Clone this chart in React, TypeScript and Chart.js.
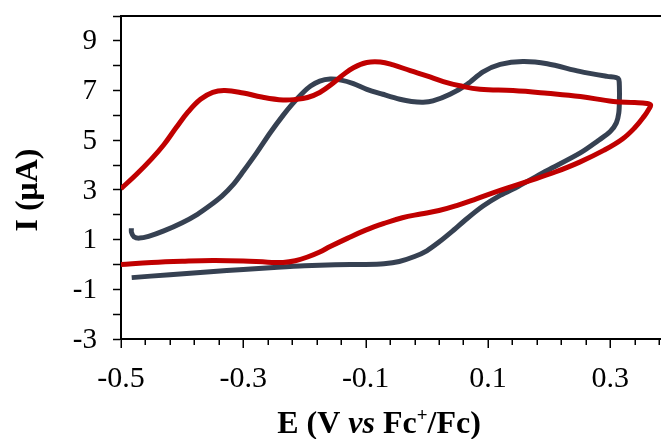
import React, { useEffect, useRef } from "react";
import { Chart, registerables } from "chart.js";
Chart.register(...registerables);

// Red voltammogram (forward lower branch, then return upper branch)
const redE = [
  -0.5, -0.45, -0.4, -0.35, -0.3, -0.26, -0.235, -0.215, -0.195, -0.175, -0.158, -0.13, -0.1, -0.07, -0.04, -0.01,
  0.02, 0.05, 0.08, 0.12, 0.17, 0.21, 0.25, 0.29, 0.32, 0.34, 0.355, 0.363, 0.366,
  0.36, 0.34, 0.305, 0.251, 0.197, 0.141, 0.087, 0.054, 0.027, 0.0, -0.027, -0.055, -0.076, -0.098, -0.12, -0.137,
  -0.153, -0.175, -0.195, -0.215, -0.235, -0.27, -0.3, -0.33, -0.35, -0.37, -0.39, -0.41, -0.43, -0.45, -0.475, -0.5,
];
const redI = [
  0.0, 0.08, 0.13, 0.16, 0.14, 0.09, 0.08, 0.15, 0.3, 0.5, 0.72, 1.05, 1.38, 1.65, 1.88, 2.03,
  2.17, 2.38, 2.63, 2.98, 3.38, 3.72, 4.12, 4.6, 5.05, 5.5, 5.95, 6.25, 6.42,
  6.48, 6.52, 6.56, 6.76, 6.89, 7.0, 7.05, 7.19, 7.36, 7.59, 7.8, 8.03, 8.15, 8.13, 7.92, 7.63,
  7.3, 6.92, 6.72, 6.64, 6.62, 6.74, 6.9, 7.0, 6.93, 6.65, 6.15, 5.5, 4.82, 4.25, 3.62, 3.05,
];

// Dark voltammogram
const darkE = [
  -0.4825, -0.42, -0.354, -0.3, -0.25, -0.2, -0.15, -0.1, -0.07, -0.045, -0.02, 0.0, 0.02, 0.04, 0.066, 0.092,
  0.12, 0.15, 0.197, 0.251, 0.28, 0.3, 0.31, 0.314, 0.315, 0.315, 0.314, 0.31, 0.295, 0.25, 0.197, 0.157,
  0.12, 0.092, 0.066, 0.038, 0.01, -0.006, -0.025, -0.044, -0.072, -0.098, -0.12, -0.14, -0.158, -0.175,
  -0.19, -0.205, -0.22, -0.235, -0.256, -0.278, -0.3, -0.317, -0.335, -0.354, -0.375, -0.4, -0.43, -0.455,
  -0.47, -0.479, -0.483, -0.483,
];
const darkI = [
  -0.53, -0.41, -0.29, -0.2, -0.12, -0.05, -0.01, 0.0, 0.03, 0.12, 0.32, 0.55, 0.9, 1.3, 1.85, 2.35,
  2.78, 3.15, 3.78, 4.49, 4.98, 5.35, 5.7, 6.1, 6.6, 7.1, 7.45, 7.52, 7.57, 7.77, 8.08, 8.17,
  8.05, 7.75, 7.25, 6.85, 6.58, 6.53, 6.56, 6.65, 6.85, 7.05, 7.28, 7.42, 7.46, 7.38,
  7.18, 6.85, 6.45, 6.0, 5.3, 4.5, 3.75, 3.2, 2.75, 2.38, 2.02, 1.68, 1.35, 1.13,
  1.06, 1.12, 1.3, 1.46,
];

const xTickValues = [-0.5, -0.3, -0.1, 0.1, 0.3];
const xTickLabels = ["-0.5", "-0.3", "-0.1", "0.1", "0.3"];
const yTickValues = [-3, -1, 1, 3, 5, 7, 9];
const yTickLabels = ["-3", "-1", "1", "3", "5", "7", "9"];
const yTitle = "I (μA)";
const xTitleParts = [
  { text: "E (V ", italic: false, sup: false },
  { text: "vs", italic: true, sup: false },
  { text: " Fc", italic: false, sup: false },
  { text: "+", italic: false, sup: true },
  { text: "/Fc)", italic: false, sup: false },
];

const RED = "#C00000";
const DARK = "#364152";
const FONT = "'Liberation Serif', 'Times New Roman', serif";

const toPoints = (xs: number[], ys: number[]) => xs.map((x, i) => ({ x, y: ys[i] }));

const axisPlugin = {
  id: "axisDecor",
  afterDraw(chart: any) {
    const { ctx, chartArea, scales } = chart;
    const xs = scales.x;
    const ys = scales.y;
    ctx.save();
    ctx.strokeStyle = "#000";
    // top frame line
    ctx.lineWidth = 2;
    ctx.beginPath();
    ctx.moveTo(chartArea.left, chartArea.top);
    ctx.lineTo(chartArea.right, chartArea.top);
    ctx.stroke();
    // x ticks: major every 0.2, minor every 0.04
    ctx.lineWidth = 1.5;
    for (let i = 0; i <= 22; i++) {
      const v = -0.5 + i * 0.04;
      if (v > xs.max + 1e-9) break;
      const px = Math.round(xs.getPixelForValue(v)) + 0.25;
      const len = i % 5 === 0 ? 9 : 6;
      ctx.beginPath();
      ctx.moveTo(px, chartArea.bottom);
      ctx.lineTo(px, chartArea.bottom + len);
      ctx.stroke();
    }
    ctx.fillStyle = "#000";
    // y tick labels
    ctx.font = `29px ${FONT}`;
    ctx.textAlign = "right";
    ctx.textBaseline = "middle";
    yTickValues.forEach((v, i) => {
      ctx.fillText(yTickLabels[i], chartArea.left - 24, ys.getPixelForValue(v) + 1);
    });
    // x tick labels
    ctx.font = `30px ${FONT}`;
    ctx.textAlign = "center";
    ctx.textBaseline = "alphabetic";
    xTickValues.forEach((v, i) => {
      ctx.fillText(xTickLabels[i], xs.getPixelForValue(v), chartArea.bottom + 48);
    });
    // x title
    const base = 32;
    const fontFor = (p: any) =>
      `${p.italic ? "italic " : ""}bold ${p.sup ? Math.round(base * 0.6) : base}px ${FONT}`;
    let total = 0;
    xTitleParts.forEach((p) => {
      ctx.font = fontFor(p);
      total += ctx.measureText(p.text).width;
    });
    let cx = (chartArea.left + chartArea.right) / 2 - 12 - total / 2;
    const by = chartArea.bottom + 94;
    ctx.textAlign = "left";
    xTitleParts.forEach((p) => {
      ctx.font = fontFor(p);
      ctx.fillText(p.text, cx, p.sup ? by - 12 : by);
      cx += ctx.measureText(p.text).width;
    });
    // y title
    ctx.save();
    ctx.translate(29, 190);
    ctx.rotate(-Math.PI / 2);
    ctx.font = `bold 32px ${FONT}`;
    ctx.textAlign = "center";
    ctx.textBaseline = "middle";
    ctx.fillText(yTitle, 0, 0);
    ctx.restore();
    ctx.restore();
  },
};

export default function App() {
  const ref = useRef<HTMLCanvasElement | null>(null);
  useEffect(() => {
    if (!ref.current) return;
    const chart = new Chart(ref.current, {
      type: "scatter",
      data: {
        datasets: [
          {
            label: "red",
            data: toPoints(redE, redI),
            showLine: true,
            borderColor: RED,
            backgroundColor: RED,
            borderWidth: 5,
            pointRadius: 0,
            tension: 0.4,
            fill: false,
          },
          {
            label: "dark",
            data: toPoints(darkE, darkI),
            showLine: true,
            borderColor: DARK,
            backgroundColor: DARK,
            borderWidth: 5,
            pointRadius: 0,
            tension: 0.3,
            fill: false,
          },
        ],
      },
      options: {
        responsive: false,
        animation: false,
        devicePixelRatio: 1,
        layout: { padding: { top: 16, right: 0, left: 0, bottom: 0 } },
        plugins: { legend: { display: false }, tooltip: { enabled: false }, title: { display: false } },
        scales: {
          x: {
            type: "linear",
            min: -0.5,
            max: 0.383,
            afterBuildTicks: (scale: any) => {
              scale.ticks = xTickValues.map((v) => ({ value: v }));
            },
            afterFit: (scale: any) => {
              scale.height = 100;
            },
            ticks: { display: false },
            grid: { display: true, drawOnChartArea: false, drawTicks: false },
            border: { display: true, color: "#000", width: 2 },
          },
          y: {
            type: "linear",
            min: -3,
            max: 10,
            afterFit: (scale: any) => {
              scale.width = 121;
            },
            ticks: { display: false, stepSize: 1 },
            grid: {
              display: true,
              drawOnChartArea: false,
              drawTicks: true,
              tickLength: 8,
              tickColor: "#000",
              tickWidth: 1.5,
            },
            border: { display: true, color: "#000", width: 2 },
          },
        },
      },
      plugins: [axisPlugin],
    });
    return () => chart.destroy();
  }, []);
  return (
    <div style={{ position: "fixed", left: 0, top: 0, width: 661, height: 439, background: "#fff" }}>
      <canvas ref={ref} width={661} height={439} style={{ display: "block" }} />
    </div>
  );
}
